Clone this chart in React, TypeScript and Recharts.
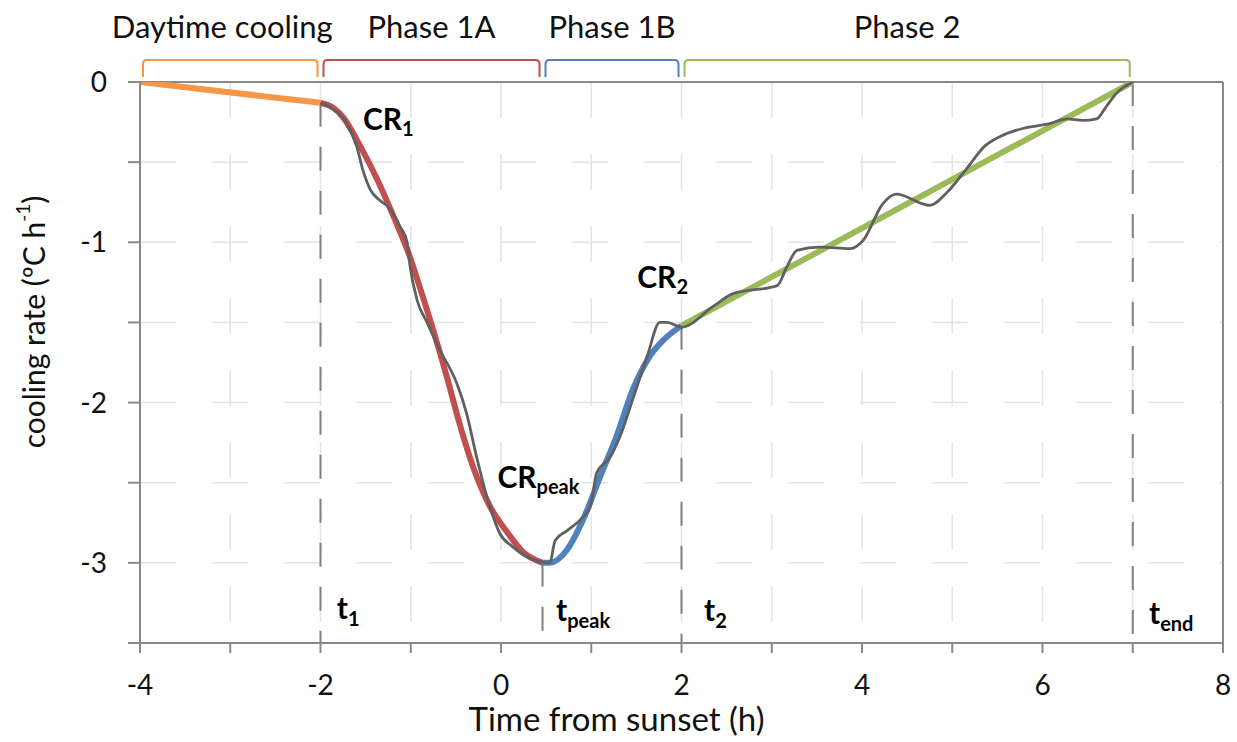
import { ComposedChart, Line, XAxis, YAxis, CartesianGrid, ReferenceLine, ReferenceDot } from 'recharts';

const FONT = 'Lato, "Open Sans", sans-serif';

// x axis: hours from sunset
const xTicks = [-4, -3, -2, -1, 0, 1, 2, 3, 4, 5, 6, 7, 8];
const yTicks = [-3.5, -3, -2.5, -2, -1.5, -1, -0.5, 0];

// fitted phases
const daytime = [
  { t: -4, v: 0 },
  { t: -2, v: -0.13 },
];
const phase1A = [
  { t: -2.0, v: -0.13 }, { t: -1.86, v: -0.16 }, { t: -1.75, v: -0.22 }, { t: -1.56, v: -0.4 },
  { t: -1.37, v: -0.61 }, { t: -1.19, v: -0.84 }, { t: -1.01, v: -1.09 }, { t: -0.9, v: -1.28 },
  { t: -0.75, v: -1.55 }, { t: -0.6, v: -1.84 }, { t: -0.45, v: -2.15 }, { t: -0.31, v: -2.4 },
  { t: -0.12, v: -2.65 }, { t: 0.07, v: -2.81 }, { t: 0.24, v: -2.93 }, { t: 0.46, v: -3.0 },
];
const phase1B = [
  { t: 0.46, v: -3.0 }, { t: 0.54, v: -3.0 }, { t: 0.73, v: -2.92 }, { t: 0.91, v: -2.73 },
  { t: 1.1, v: -2.46 }, { t: 1.28, v: -2.21 }, { t: 1.46, v: -1.92 }, { t: 1.65, v: -1.71 },
  { t: 1.8, v: -1.61 }, { t: 2.0, v: -1.52 },
];
const phase2 = [
  { t: 2, v: -1.52 },
  { t: 7, v: 0 },
];

// measured cooling rate
const observed = [
  { t: -2.0, v: -0.13 }, { t: -1.86, v: -0.17 }, { t: -1.71, v: -0.26 }, { t: -1.6, v: -0.4 },
  { t: -1.53, v: -0.55 }, { t: -1.45, v: -0.67 }, { t: -1.34, v: -0.74 }, { t: -1.23, v: -0.79 },
  { t: -1.12, v: -0.9 }, { t: -1.04, v: -1.0 }, { t: -1.01, v: -1.14 }, { t: -0.93, v: -1.36 },
  { t: -0.82, v: -1.5 }, { t: -0.68, v: -1.67 }, { t: -0.49, v: -1.88 }, { t: -0.38, v: -2.07 },
  { t: -0.27, v: -2.34 }, { t: -0.16, v: -2.58 }, { t: -0.01, v: -2.82 }, { t: 0.13, v: -2.9 },
  { t: 0.35, v: -2.98 }, { t: 0.54, v: -3.0 }, { t: 0.6, v: -2.86 }, { t: 0.73, v: -2.8 },
  { t: 0.88, v: -2.73 }, { t: 0.99, v: -2.65 }, { t: 1.06, v: -2.44 }, { t: 1.21, v: -2.34 },
  { t: 1.32, v: -2.21 }, { t: 1.46, v: -1.98 }, { t: 1.62, v: -1.71 }, { t: 1.76, v: -1.5 },
  { t: 1.84, v: -1.5 }, { t: 2.0, v: -1.53 }, { t: 2.35, v: -1.4 }, { t: 2.57, v: -1.32 },
  { t: 3.06, v: -1.27 }, { t: 3.17, v: -1.15 }, { t: 3.28, v: -1.05 }, { t: 3.53, v: -1.03 },
  { t: 3.87, v: -1.04 }, { t: 4.01, v: -0.99 }, { t: 4.23, v: -0.76 }, { t: 4.38, v: -0.7 },
  { t: 4.75, v: -0.77 }, { t: 4.94, v: -0.69 }, { t: 5.16, v: -0.54 }, { t: 5.36, v: -0.4 },
  { t: 5.53, v: -0.34 }, { t: 5.78, v: -0.29 }, { t: 6.08, v: -0.26 }, { t: 6.27, v: -0.23 },
  { t: 6.45, v: -0.24 }, { t: 6.6, v: -0.23 }, { t: 6.71, v: -0.15 }, { t: 6.82, v: -0.07 },
  { t: 7.0, v: 0 },
];

// phase brackets along the top
const phaseNames = ['Daytime cooling', 'Phase 1A', 'Phase 1B', 'Phase 2'];
const phaseBounds = [-4, -2, 0.46, 2, 7];
const phaseColors = ['#F79646', '#C0504D', '#4F81BD', '#9BBB59'];
const bracketLevel = 0.137;

// transition times: where each dashed drop line starts
const markerTimes = [-2, 0.46, 2, 7];
const markerValues = [-0.13, -3.0, -1.52, 0];
const markerNames = ['1', 'peak', '2', 'end'];
const markerLabelPos = [
  { t: -1.82, v: -3.35 },
  { t: 0.61, v: -3.36 },
  { t: 2.25, v: -3.36 },
  { t: 7.18, v: -3.38 },
];

// cooling-rate callouts
const rateNames = ['1', 'peak', '2'];
const rateLabelPos = [
  { t: -1.53, v: -0.3 },
  { t: -0.04, v: -2.53 },
  { t: 1.51, v: -1.285 },
];

const AXIS = '#898989';
const TEXT = '#111';

function Bracket(props: any) {
  const { x1, y1, x2, color, name, shift } = props;
  const a = x1 + 3;
  const b = x2 - 3;
  const foot = 17;
  const r = 4;
  const d = `M${a},${y1 + foot} L${a},${y1 + r} Q${a},${y1} ${a + r},${y1} L${b - r},${y1} Q${b},${y1} ${b},${y1 + r} L${b},${y1 + foot}`;
  return (
    <g>
      <path d={d} fill="none" stroke={color} strokeWidth={2} />
      <text x={(x1 + x2) / 2 + shift} y={y1 - 22} textAnchor="middle" fontFamily={FONT} fontSize={31} fill={TEXT}>
        {name}
      </text>
    </g>
  );
}

function SubLabel(props: any) {
  const { cx, cy, main, sub, subDy } = props;
  return (
    <text x={cx} y={cy} fontFamily={FONT} fontWeight="bold" fontSize={30} fill="#000">
      {main}
      <tspan fontSize={20} dy={subDy}>{sub}</tspan>
    </text>
  );
}

function YTitle() {
  const cx = 33;
  const cy = 322;
  return (
    <text x={cx} y={cy} transform={`rotate(-90 ${cx} ${cy})`} textAnchor="middle" dominantBaseline="central"
      fontFamily={FONT} fontSize={30} fill={TEXT}>
      cooling rate (ºC h<tspan fontSize={19} dy={-11}>-1</tspan><tspan dy={11}>)</tspan>
    </text>
  );
}

function XTitle(props: any) {
  const { viewBox } = props;
  const { x, y, width } = viewBox;
  return (
    <text x={x + width / 2 - 65} y={y + 88} textAnchor="middle" fontFamily={FONT} fontSize={33} fill={TEXT}>
      Time from sunset (h)
    </text>
  );
}

export default function App() {
  return (
    <div style={{ position: 'absolute', left: 0, top: 0, background: '#fff' }}>
      <ComposedChart width={1237} height={742} margin={{ top: 82, right: 14, left: 80, bottom: 39 }}>
        <CartesianGrid stroke="#e4e4e4" strokeWidth={1.5} strokeDasharray="36 36" />
        <XAxis
          type="number"
          dataKey="t"
          domain={[-4, 8]}
          ticks={xTicks}
          interval={0}
          allowDataOverflow
          height={60}
          stroke={AXIS}
          strokeWidth={2}
          tickSize={10}
          tickMargin={22}
          tickFormatter={(v: number) => (v % 2 === 0 ? String(v) : '')}
          tick={{ fill: TEXT, fontSize: 28, fontFamily: FONT }}
          label={<XTitle />}
        />
        <YAxis
          type="number"
          dataKey="v"
          domain={[-3.5, 0]}
          ticks={yTicks}
          interval={0}
          allowDataOverflow
          width={60}
          stroke={AXIS}
          strokeWidth={2}
          tickSize={12}
          tickMargin={21}
          tickFormatter={(v: number) => (Number.isInteger(v) ? String(v) : '')}
          tick={{ fill: TEXT, fontSize: 28, fontFamily: FONT }}
          label={<YTitle />}
        />

        {/* plot frame: top and right edges */}
        <ReferenceLine y={0} stroke={AXIS} strokeWidth={2} ifOverflow="visible" />
        <ReferenceLine x={8} stroke={AXIS} strokeWidth={2} ifOverflow="visible" />

        {markerTimes.map((t, i) => (
          <ReferenceLine
            key={`m${i}`}
            segment={[{ x: t, y: markerValues[i] }, { x: t, y: -3.5 }]}
            stroke="#7f7f7f"
            strokeWidth={2}
            strokeDasharray="24 20"
            ifOverflow="visible"
          />
        ))}

        {phaseNames.map((name, i) => (
          <ReferenceLine
            key={`p${i}`}
            segment={[{ x: phaseBounds[i], y: bracketLevel }, { x: phaseBounds[i + 1], y: bracketLevel }]}
            ifOverflow="visible"
            shape={(p: any) => <Bracket {...p} color={phaseColors[i]} name={name} shift={i === 0 ? -8 : 0} />}
          />
        ))}

        <Line data={daytime} dataKey="v" type="linear" stroke="#F79646" strokeWidth={6} dot={false} isAnimationActive={false} />
        <Line data={phase1A} dataKey="v" type="monotone" stroke="#C0504D" strokeWidth={6} dot={false} isAnimationActive={false} />
        <Line data={phase1B} dataKey="v" type="monotone" stroke="#4F81BD" strokeWidth={6} dot={false} isAnimationActive={false} />
        <Line data={phase2} dataKey="v" type="linear" stroke="#9BBB59" strokeWidth={6} dot={false} isAnimationActive={false} />
        <Line data={observed} dataKey="v" type="monotone" stroke="#606060" strokeWidth={2.8} dot={false} isAnimationActive={false} />

        {rateNames.map((s, i) => (
          <ReferenceDot
            key={`cr${i}`}
            x={rateLabelPos[i].t}
            y={rateLabelPos[i].v}
            ifOverflow="visible"
            shape={(p: any) => <SubLabel {...p} main="CR" sub={s} subDy={6} />}
          />
        ))}
        {markerNames.map((s, i) => (
          <ReferenceDot
            key={`t${i}`}
            x={markerLabelPos[i].t}
            y={markerLabelPos[i].v}
            ifOverflow="visible"
            shape={(p: any) => <SubLabel {...p} main="t" sub={s} subDy={7} />}
          />
        ))}
      </ComposedChart>
    </div>
  );
}
